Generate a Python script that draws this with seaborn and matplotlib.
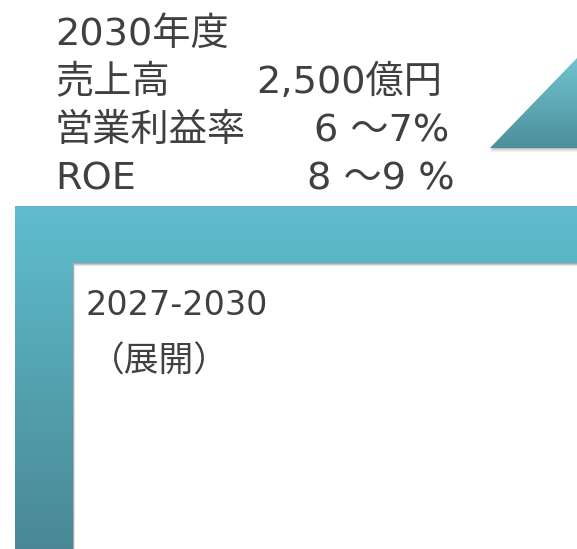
import matplotlib
matplotlib.use("Agg")
import matplotlib.pyplot as plt
from matplotlib.patches import Polygon
from matplotlib.colors import LinearSegmentedColormap
import seaborn as sns
import numpy as np

# slide content
target_year = "2030年度"
metric_labels = ["売上高", "営業利益率", "ROE"]
metric_values = ["2,500億円", "6 ～7%", "8 ～9 %"]
phase_period = "2027-2030"
phase_name = "（展開）"

sns.set_theme(style="white")
plt.rcParams['font.family'] = ['DejaVu Sans', 'Noto Sans CJK JP']

W, H = 577, 549
fig = plt.figure(figsize=(W / 100, H / 100), dpi=100)
ax = fig.add_axes([0, 0, 1, 1])
ax.set_xlim(0, W)
ax.set_ylim(H, 0)
ax.axis('off')

text_col = "#404040"

def gradient_fill(verts, top, bottom, c_top, c_bot, z=2):
    cmap = LinearSegmentedColormap.from_list("g", sns.blend_palette([c_top, c_bot], 8))
    grad = np.linspace(0, 1, 256).reshape(-1, 1)
    poly = Polygon(verts, closed=True, facecolor='none', edgecolor='none')
    ax.add_patch(poly)
    im = ax.imshow(grad, cmap=cmap, aspect='auto', extent=[0, W, bottom, top],
                   zorder=z, interpolation='bicubic')
    im.set_clip_path(poly)

# L-shaped frame: soft shadow then gradient band
frame = [(15, 206), (W, 206), (W, 263), (73, 263), (73, H), (15, H)]
for k, a in [(3, 0.10), (2, 0.12), (1, 0.15)]:
    sh = [(x + k * 0.6, y + k) for x, y in frame]
    ax.add_patch(Polygon(sh, closed=True, facecolor='black', alpha=a, edgecolor='none', zorder=1))
gradient_fill(frame, 206, H, "#5FBDCE", "#4A8895")

# triangle (top right)
tri = [(490, 148), (W, 58), (W, 148)]
for k, a in [(4, 0.06), (2.5, 0.09), (1.2, 0.12)]:
    sh = [(x, y + k) for x, y in tri]
    ax.add_patch(Polygon(sh, closed=True, facecolor='black', alpha=a, edgecolor='none', zorder=1))
gradient_fill(tri, 58, 148, "#70C4D0", "#4E8E9B")

# header block
fs = 27.5
ax.text(55, 45, target_year, fontsize=fs, color=text_col, va='baseline', ha='left')
rows_y = [93, 141, 189]
value_x = [256, 314, 307]
for lab, val, y, vx in zip(metric_labels, metric_values, rows_y, value_x):
    ax.text(55, y, lab, fontsize=fs, color=text_col, va='baseline', ha='left')
    ax.text(vx, y, val, fontsize=fs, color=text_col, va='baseline', ha='left')

# phase label inside frame
ax.text(85, 315, phase_period, fontsize=24, color=text_col, va='baseline', ha='left')
ax.text(90, 372, phase_name, fontsize=25, color=text_col, va='baseline', ha='left')

fig.savefig("out.png", dpi=100)
